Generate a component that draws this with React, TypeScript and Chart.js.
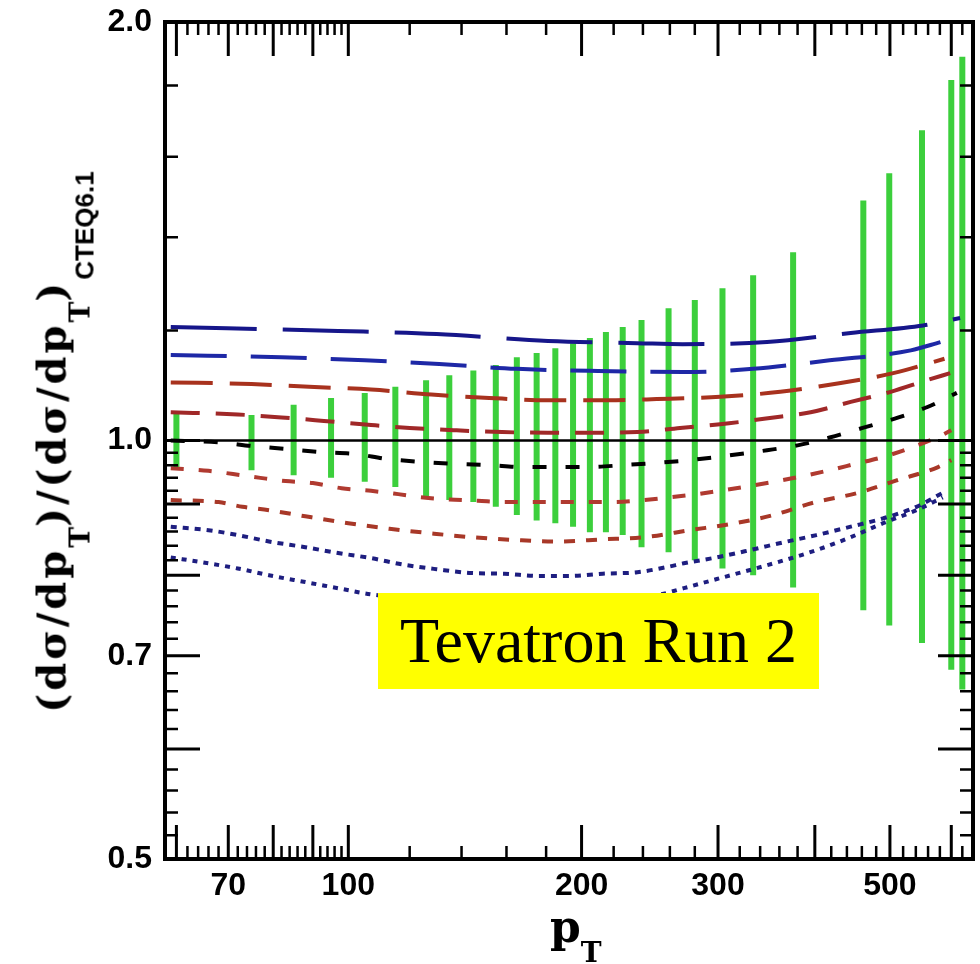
import React, { useEffect, useRef } from "react";
import { Chart, registerables } from "chart.js";

Chart.register(...registerables);

// ---------- axes ----------
const xRange = [58, 640];
const yRange = [0.5, 2.0];
const xTickLabels = [70, 100, 200, 300, 500];
const yTickLabels = [0.5, 0.7, 1.0, 2.0];
const xLongTicks = [60, 70, 80, 90, 100, 200, 300, 400, 500, 600];
const xShortTicks = [62, 64, 66, 68, 72, 74, 76, 78, 82, 84, 86, 88, 92, 94, 96, 98, 120, 140, 160, 180, 220, 240, 260, 280, 320, 340, 360, 380, 420, 440, 460, 480, 520, 540, 560, 580, 620];
const yLongTicks = [0.6, 0.7, 0.8, 0.9, 1.0];
const yShortTicks = [0.52, 0.54, 0.56, 0.58, 0.62, 0.64, 0.66, 0.68, 0.72, 0.74, 0.76, 0.78, 0.82, 0.84, 0.86, 0.88, 0.92, 0.94, 0.96, 0.98, 1.2, 1.4, 1.6, 1.8];

// ---------- curves (pT, ratio) ----------
const ptBlueLongA = [59, 97, 130, 181, 236, 270, 347, 445, 552, 616];
const rBlueLongA = [1.207, 1.199, 1.193, 1.179, 1.175, 1.173, 1.177, 1.195, 1.21, 1.225];

const ptBlueLongB = [59, 82, 105, 131, 165, 210, 271, 333, 418, 532, 581];
const rBlueLongB = [1.152, 1.148, 1.142, 1.135, 1.126, 1.122, 1.12, 1.126, 1.142, 1.161, 1.177];

const ptRedLongA = [59, 75, 89, 107, 128, 152, 181, 216, 250, 302, 361, 428, 505, 588];
const rRedLongA = [1.101, 1.098, 1.093, 1.088, 1.079, 1.073, 1.069, 1.069, 1.071, 1.075, 1.084, 1.099, 1.118, 1.145];

const ptRedLongB = [59, 72, 82, 93, 107, 120, 138, 158, 181, 205, 236, 268, 310, 350, 395, 445, 501, 558, 598];
const rRedLongB = [1.048, 1.044, 1.039, 1.033, 1.026, 1.021, 1.017, 1.014, 1.013, 1.013, 1.014, 1.021, 1.029, 1.038, 1.048, 1.066, 1.084, 1.105, 1.118];

const ptBlack = [59, 68, 75, 83, 92, 102, 112, 125, 138, 152, 168, 186, 205, 226, 253, 276, 307, 347, 380, 418, 461, 513, 559, 610];
const rBlack = [1.0, 0.997, 0.991, 0.986, 0.981, 0.978, 0.97, 0.965, 0.962, 0.96, 0.957, 0.957, 0.957, 0.96, 0.964, 0.968, 0.975, 0.984, 0.992, 1.005, 1.021, 1.039, 1.057, 1.082];

const ptRedShortA = [59, 66, 71, 77, 83, 90, 98, 107, 116, 125, 135, 147, 159, 173, 188, 204, 220, 236, 255, 282, 305, 328, 354, 387, 418, 451, 490, 532, 575, 600];
const rRedShortA = [0.955, 0.951, 0.946, 0.94, 0.935, 0.932, 0.924, 0.92, 0.915, 0.91, 0.907, 0.905, 0.903, 0.903, 0.903, 0.903, 0.903, 0.905, 0.909, 0.915, 0.921, 0.927, 0.934, 0.943, 0.952, 0.962, 0.973, 0.988, 1.005, 1.017];

const ptRedShortB = [59, 68, 73, 79, 88, 100, 113, 129, 144, 165, 186, 213, 241, 276, 316, 354, 398, 455, 510, 577, 600];
const rRedShortB = [0.906, 0.903, 0.896, 0.891, 0.882, 0.872, 0.864, 0.857, 0.852, 0.848, 0.846, 0.849, 0.852, 0.862, 0.872, 0.884, 0.902, 0.917, 0.936, 0.957, 0.968];

const ptBlueDotA = [59, 66, 72, 79, 88, 97, 107, 118, 130, 144, 159, 176, 193, 213, 236, 258, 271, 299, 330, 365, 402, 445, 490, 541, 585];
const rBlueDotA = [0.867, 0.862, 0.855, 0.846, 0.838, 0.83, 0.823, 0.814, 0.808, 0.803, 0.802, 0.799, 0.799, 0.802, 0.804, 0.811, 0.816, 0.824, 0.834, 0.845, 0.855, 0.867, 0.879, 0.896, 0.917];

const ptBlueDotB = [59, 65, 72, 79, 88, 97, 107, 130, 157, 188, 224, 253, 271, 299, 330, 365, 402, 445, 490, 541, 585];
const rBlueDotB = [0.824, 0.817, 0.809, 0.8, 0.791, 0.783, 0.775, 0.768, 0.764, 0.763, 0.766, 0.775, 0.783, 0.795, 0.807, 0.82, 0.834, 0.852, 0.872, 0.891, 0.91];

// ---------- data error bars ----------
const ptErr = [60, 75, 85, 95, 105, 115, 126, 135, 145, 155, 165, 175, 185, 195, 205, 215, 226, 239, 259, 280, 304, 333, 375, 462, 499, 550, 600, 620];
const errHigh = [1.047, 1.043, 1.061, 1.073, 1.082, 1.093, 1.105, 1.114, 1.123, 1.133, 1.148, 1.156, 1.165, 1.175, 1.185, 1.197, 1.207, 1.221, 1.245, 1.262, 1.287, 1.315, 1.366, 1.488, 1.557, 1.672, 1.817, 1.888];
const errLow = [0.957, 0.952, 0.944, 0.94, 0.934, 0.926, 0.91, 0.906, 0.903, 0.896, 0.884, 0.876, 0.872, 0.867, 0.859, 0.859, 0.855, 0.838, 0.831, 0.82, 0.809, 0.8, 0.784, 0.755, 0.736, 0.715, 0.684, 0.662];

const pairs = (xs: number[], ys: number[]) => xs.map((x, i) => ({ x, y: ys[i] }));

const curve = (label: string, xs: number[], ys: number[], color: string, dash: number[], width = 4) => ({
  label,
  data: pairs(xs, ys),
  borderColor: color,
  borderWidth: width,
  borderDash: dash,
  borderCapStyle: "butt",
  pointRadius: 0,
  cubicInterpolationMode: "monotone",
  fill: false,
  order: 0,
});

const frameTicks = {
  id: "frameTicks",
  afterDatasetsDraw(chart: any) {
    const { ctx, chartArea: a, scales } = chart;
    const xs = scales.x;
    const ys = scales.y;
    ctx.save();
    ctx.strokeStyle = "#000";
    ctx.lineCap = "butt";
    const xt = (vals: number[], len: number, w: number) => {
      ctx.lineWidth = w;
      vals.forEach((v) => {
        const p = xs.getPixelForValue(v);
        ctx.beginPath();
        ctx.moveTo(p, a.bottom);
        ctx.lineTo(p, a.bottom - len);
        ctx.moveTo(p, a.top);
        ctx.lineTo(p, a.top + len);
        ctx.stroke();
      });
    };
    const yt = (vals: number[], len: number, w: number) => {
      ctx.lineWidth = w;
      vals.forEach((v) => {
        const p = ys.getPixelForValue(v);
        ctx.beginPath();
        ctx.moveTo(a.left, p);
        ctx.lineTo(a.left + len, p);
        ctx.moveTo(a.right, p);
        ctx.lineTo(a.right - len, p);
        ctx.stroke();
      });
    };
    xt(xLongTicks, 34, 3);
    xt(xShortTicks, 13, 2.5);
    yt(yLongTicks, 35, 3);
    yt(yShortTicks, 13, 2.5);
    ctx.lineWidth = 4;
    ctx.strokeRect(a.left, a.top, a.right - a.left, a.bottom - a.top);
    ctx.restore();
  },
};

export default function App() {
  const ref = useRef<HTMLCanvasElement | null>(null);

  useEffect(() => {
    document.body.style.margin = "0";
    const canvas = ref.current;
    if (!canvas) return;

    const errData: any[] = [];
    ptErr.forEach((p, i) => {
      errData.push({ x: p, y: errLow[i] });
      errData.push({ x: p, y: errHigh[i] });
      errData.push({ x: p, y: null });
    });

    const tickFont = { family: "'Liberation Sans', Arial, sans-serif", weight: "bold", size: 32 };

    const chart = new Chart(canvas, {
      type: "line",
      data: {
        datasets: [
          {
            label: "1.0",
            data: [
              { x: xRange[0], y: 1 },
              { x: xRange[1], y: 1 },
            ],
            borderColor: "#000",
            borderWidth: 2.5,
            pointRadius: 0,
            order: -1,
          },
          curve("blue long A", ptBlueLongA, rBlueLongA, "#16168a", [86, 26]),
          curve("blue long B", ptBlueLongB, rBlueLongB, "#1e28a6", [56, 24]),
          curve("red long A", ptRedLongA, rRedLongA, "#a8321e", [42, 17]),
          curve("red long B", ptRedLongB, rRedLongB, "#a02828", [29, 16]),
          curve("black", ptBlack, rBlack, "#000000", [14, 19]),
          curve("red short A", ptRedShortA, rRedShortA, "#b03a30", [13, 15]),
          curve("red short B", ptRedShortB, rRedShortB, "#a83828", [11, 11]),
          curve("blue dot A", ptBlueDotA, rBlueDotA, "#1e1e80", [6, 6]),
          curve("blue dot B", ptBlueDotB, rBlueDotB, "#1e1e80", [5, 6]),
          {
            label: "data",
            data: errData,
            borderColor: "#3ccf3c",
            borderWidth: 6,
            borderCapStyle: "butt",
            pointRadius: 0,
            spanGaps: false,
            tension: 0,
            order: 5,
          },
        ],
      },
      options: {
        animation: false,
        responsive: false,
        devicePixelRatio: 1,
        layout: { padding: { left: 0, top: 22, right: 7, bottom: 0 } },
        plugins: { legend: { display: false }, tooltip: { enabled: false } },
        scales: {
          x: {
            type: "logarithmic",
            min: xRange[0],
            max: xRange[1],
            afterBuildTicks: (s: any) => {
              s.ticks = xTickLabels.map((v) => ({ value: v }));
            },
            afterFit: (s: any) => {
              s.height = 105;
              s.paddingLeft = 0;
              s.paddingRight = 0;
            },
            ticks: {
              callback: (v: any) => String(v),
              font: tickFont,
              color: "#000",
              padding: 0,
              autoSkip: false,
              maxRotation: 0,
            },
            grid: { display: true, drawOnChartArea: false, drawTicks: true, tickLength: 8, color: "rgba(0,0,0,0)" },
            border: { display: false },
          },
          y: {
            type: "logarithmic",
            min: yRange[0],
            max: yRange[1],
            afterBuildTicks: (s: any) => {
              s.ticks = yTickLabels.map((v) => ({ value: v }));
            },
            afterFit: (s: any) => {
              s.width = 165;
              s.paddingTop = 0;
              s.paddingBottom = 0;
            },
            ticks: {
              callback: (v: any) => Number(v).toFixed(1),
              font: tickFont,
              color: "#000",
              padding: 0,
              autoSkip: false,
            },
            grid: { display: true, drawOnChartArea: false, drawTicks: true, tickLength: 13, color: "rgba(0,0,0,0)" },
            border: { display: false },
          },
        },
      },
      plugins: [frameTicks],
    } as any);

    return () => chart.destroy();
  }, []);

  const serif = "'DejaVu Serif', 'Liberation Serif', serif";
  const sub = { position: "relative" as const, top: 24, fontSize: 28, letterSpacing: 0 };

  return (
    <div style={{ position: "relative", width: 980, height: 964, background: "#fff", overflow: "hidden" }}>
      <canvas ref={ref} width={980} height={964} style={{ position: "absolute", left: 0, top: 0 }} />
      <div
        style={{
          position: "absolute",
          left: 54,
          top: 442,
          transform: "translate(-50%, -50%) rotate(-90deg)",
          whiteSpace: "nowrap",
          fontFamily: serif,
          fontWeight: "bold",
          fontSize: 40,
          letterSpacing: 3,
          lineHeight: "50px",
          color: "#000",
        }}
      >
        (dσ/dp<span style={sub}>T</span>)/(dσ/dp<span style={sub}>T</span>)
        <span
          style={{
            position: "relative",
            top: 28,
            fontSize: 26,
            letterSpacing: 0,
            fontFamily: "'Liberation Sans', Arial, sans-serif",
            fontWeight: "bold",
          }}
        >
          CTEQ6.1
        </span>
      </div>
      <div
        style={{
          position: "absolute",
          left: 550,
          top: 904,
          whiteSpace: "nowrap",
          fontFamily: serif,
          fontWeight: "bold",
          fontSize: 44,
          lineHeight: "46px",
          color: "#000",
        }}
      >
        p<span style={{ position: "relative", top: 20, fontSize: 28 }}>T</span>
      </div>
      <div
        style={{
          position: "absolute",
          left: 378,
          top: 593,
          width: 441,
          height: 96,
          background: "#ffff00",
          color: "#000",
          fontFamily: "'Liberation Serif', 'Times New Roman', serif",
          fontSize: 64,
          lineHeight: "96px",
          textAlign: "center",
          whiteSpace: "nowrap",
        }}
      >
        Tevatron Run 2
      </div>
    </div>
  );
}
